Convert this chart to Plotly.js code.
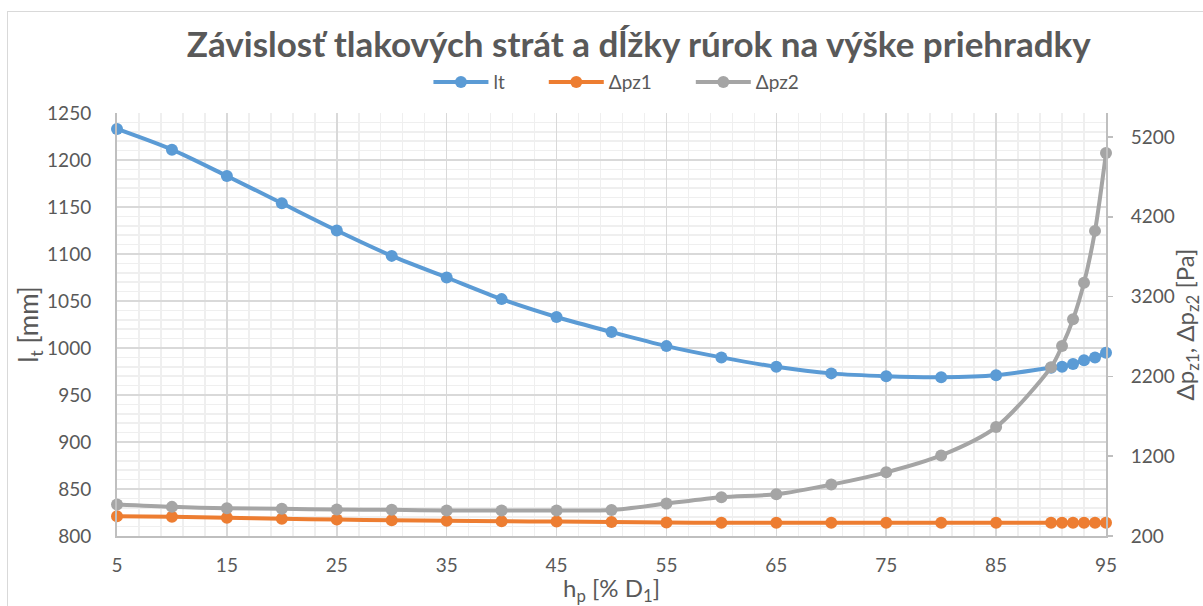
<!DOCTYPE html>
<html>
<head>
<meta charset="utf-8">
<script src="https://cdn.plot.ly/plotly-3.0.1.min.js"></script>
<style>
  html, body { margin:0; padding:0; width:1203px; height:606px; overflow:hidden; background:#fff; }
  #chart { position:absolute; left:0; top:0; width:1203px; height:606px; }
  #frame { position:absolute; left:7px; top:11px; width:1300px; height:700px; border:1.5px solid #d9d9d9; pointer-events:none; }
</style>
</head>
<body>
<div id="chart"></div>
<div id="frame"></div>
<script>
const hp   = [5,10,15,20,25,30,35,40,45,50,55,60,65,70,75,80,85,90,91,92,93,94,95];
const lt   = [1233,1211,1183,1154,1125,1098,1075,1052,1033,1017,1002,990,980,973,970,969,971,979,980,983,987,990,995];
const dpz1 = [448,440,428,415,406,398,390,385,381,375,369,366,365,365,365,365,365,365,365,365,365,365,365];
const dpz2 = [594,565,548,540,531,528,519,519,519,525,606,685,723,844,998,1210,1565,2315,2581,2915,3373,4023,4998];
const seriesNames = ['lt', 'Δpz1', 'Δpz2'];

const FONT = 'Lato, "Open Sans", sans-serif';
const TXT = '#595959';
const PAD = '\u00a0\u00a0\u00a0\u00a0\u00a0\u00a0\u00a0';

function series(name, x, y, color, axis) {
  return {
    type:'scatter', mode:'lines+markers', name:name, x:x, y:y, yaxis:axis,
    line:{color:color, width:4, shape:'spline', smoothing:0.8},
    marker:{color:color, size:12},
    cliponaxis:false
  };
}

const data = [
  series(seriesNames[0] + PAD, hp, lt, '#5B9BD5', 'y'),
  series(seriesNames[1] + PAD, hp, dpz1, '#ED7D31', 'y2'),
  series(seriesNames[2], hp, dpz2, '#A5A5A5', 'y2')
];

const layout = {
  width:1203, height:606,
  paper_bgcolor:'#ffffff', plot_bgcolor:'#ffffff',
  font:{family:FONT, color:TXT, size:19},
  margin:{l:117, r:97, t:113, b:70},
  showlegend:true,
  title:{text:'<b>Závislosť tlakových strát a dĺžky rúrok na výške priehradky</b>',
         x:0.531, xref:'container', xanchor:'center', y:0.926, yref:'container', yanchor:'middle',
         font:{family:FONT, size:35, color:TXT}},
  legend:{orientation:'h', x:0.505, xanchor:'center', y:1.073, yanchor:'middle',
          font:{family:FONT, size:19, color:TXT}, itemwidth:55, bgcolor:'rgba(0,0,0,0)'},
  xaxis:{
    range:[5,95], tick0:5, dtick:10, tickmode:'linear',
    showgrid:true, gridcolor:'#d9d9d9', gridwidth:1.5,
    minor:{dtick:2, tick0:5, showgrid:true, gridcolor:'#efefef', gridwidth:1.5},
    showline:true, linecolor:'#bfbfbf', linewidth:2,
    ticks:'', ticklabelstandoff:11, zeroline:false,
    tickfont:{size:19, color:TXT},
    title:{text:'h<sub>p</sub> [% D<sub>1</sub>]', font:{size:24, color:TXT}, standoff:7}
  },
  yaxis:{
    range:[800,1250], tick0:800, dtick:50, tickmode:'linear',
    showgrid:true, gridcolor:'#d9d9d9', gridwidth:1.5,
    minor:{dtick:10, showgrid:true, gridcolor:'#efefef', gridwidth:1.5},
    showline:true, linecolor:'#bfbfbf', linewidth:2,
    ticks:'', ticklabelstandoff:20, zeroline:false,
    tickfont:{size:19, color:TXT},
    title:{text:'l<sub>t</sub> [mm]', font:{size:26, color:TXT}, standoff:0}
  },
  yaxis2:{
    overlaying:'y', side:'right',
    range:[200,5500], tick0:200, dtick:1000, tickmode:'linear',
    showgrid:false, zeroline:false,
    showline:true, linecolor:'#bfbfbf', linewidth:2,
    ticks:'outside', ticklen:5, tickcolor:'#bfbfbf', tickwidth:1.5,
    ticklabelstandoff:14,
    tickfont:{size:19, color:TXT},
    title:{text:'Δp<sub>z1</sub>, Δp<sub>z2</sub> [Pa]', font:{size:24, color:TXT}, standoff:6}
  }
};

Plotly.newPlot('chart', data, layout, {displayModeBar:false, staticPlot:true});
</script>
</body>
</html>
